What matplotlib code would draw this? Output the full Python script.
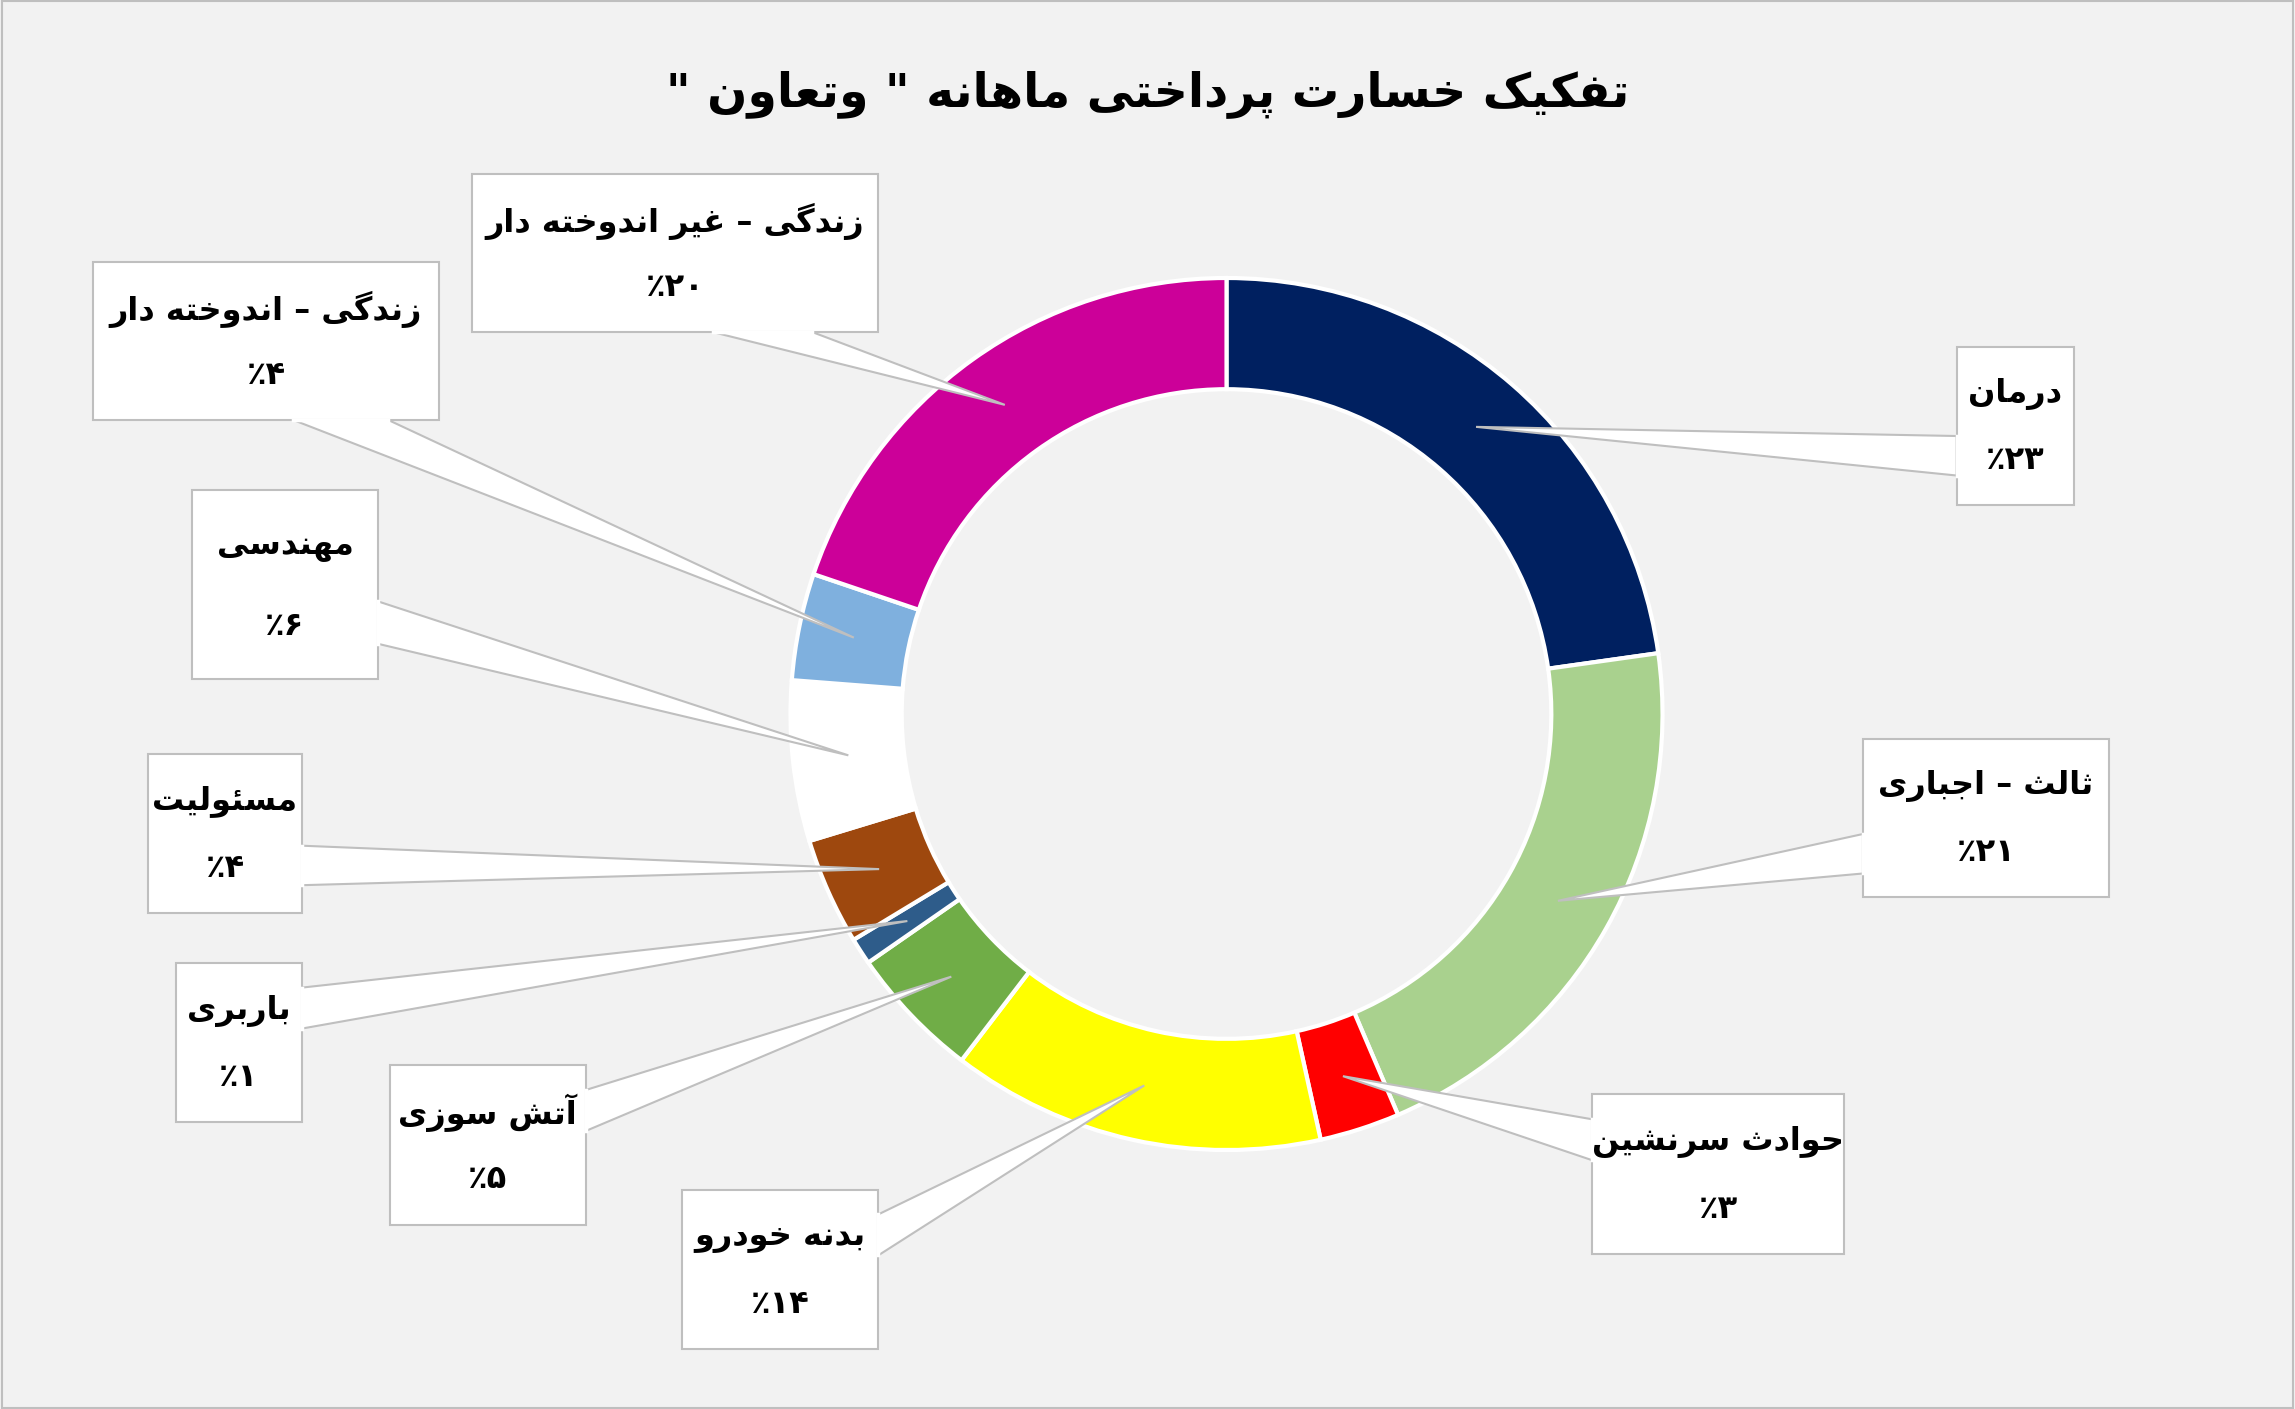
import numpy as np
import matplotlib
matplotlib.use("Agg")
import matplotlib.pyplot as plt
from matplotlib.patches import Rectangle, Polygon

# ---------------- data ----------------
categories = ["درمان", "ثالث – اجباری", "حوادث سرنشین", "بدنه خودرو", "آتش سوزی",
              "باربری", "مسئولیت", "مهندسی", "زندگی – اندوخته دار", "زندگی – غیر اندوخته دار"]
values = [23, 21, 3, 14, 5, 1, 4, 6, 4, 20]
pct_labels = ["۲۳", "۲۱", "۳", "۱۴", "۵", "۱", "۴", "۶", "۴", "۲۰"]
colors = ["#002060", "#A9D18E", "#FF0000", "#FFFF00", "#70AD47",
          "#2E5C8A", "#9E480E", "#FFFFFF", "#7FB0DE", "#CC0099"]
title = 'تفکیک خسارت پرداختی ماهانه " وتعاون "'

# ---------------- minimal Arabic shaping ----------------
F = {  # iso, fin, ini, med
 'ا': (0xFE8D, 0xFE8E, None, None), 'آ': (0xFE81, 0xFE82, None, None),
 'ب': (0xFE8F, 0xFE90, 0xFE91, 0xFE92), 'پ': (0xFB56, 0xFB57, 0xFB58, 0xFB59),
 'ت': (0xFE95, 0xFE96, 0xFE97, 0xFE98), 'ث': (0xFE99, 0xFE9A, 0xFE9B, 0xFE9C),
 'ج': (0xFE9D, 0xFE9E, 0xFE9F, 0xFEA0), 'ح': (0xFEA1, 0xFEA2, 0xFEA3, 0xFEA4),
 'خ': (0xFEA5, 0xFEA6, 0xFEA7, 0xFEA8), 'د': (0xFEA9, 0xFEAA, None, None),
 'ر': (0xFEAD, 0xFEAE, None, None), 'ز': (0xFEAF, 0xFEB0, None, None),
 'س': (0xFEB1, 0xFEB2, 0xFEB3, 0xFEB4), 'ش': (0xFEB5, 0xFEB6, 0xFEB7, 0xFEB8),
 'ع': (0xFEC9, 0xFECA, 0xFECB, 0xFECC), 'غ': (0xFECD, 0xFECE, 0xFECF, 0xFED0),
 'ف': (0xFED1, 0xFED2, 0xFED3, 0xFED4), 'ک': (0xFB8E, 0xFB8F, 0xFB90, 0xFB91),
 'گ': (0xFB92, 0xFB93, 0xFB94, 0xFB95), 'ل': (0xFEDD, 0xFEDE, 0xFEDF, 0xFEE0),
 'م': (0xFEE1, 0xFEE2, 0xFEE3, 0xFEE4), 'ن': (0xFEE5, 0xFEE6, 0xFEE7, 0xFEE8),
 'ه': (0xFEE9, 0xFEEA, 0xFEEB, 0xFEEC), 'و': (0xFEED, 0xFEEE, None, None),
 'ی': (0xFBFC, 0xFBFD, 0xFBFE, 0xFBFF), 'ئ': (0xFE89, 0xFE8A, 0xFE8B, 0xFE8C),
 'ؤ': (0xFE85, 0xFE86, None, None),
}

def shape(s):
    out = []
    n = len(s)
    for i, c in enumerate(s):
        if c not in F:
            out.append(c); continue
        prev = s[i-1] if i > 0 else None
        nxt = s[i+1] if i < n-1 else None
        jp = prev in F and F[prev][2] is not None
        jn = F[c][2] is not None and nxt in F
        iso, fin, ini, med = F[c]
        if jp and jn: g = med
        elif jp: g = fin
        elif jn: g = ini
        else: g = iso
        out.append(chr(g))
    return "".join(out)[::-1]

# ---------------- figure ----------------
W, H = 1568, 963
fig = plt.figure(figsize=(22.95, 14.09), dpi=100, facecolor="#F2F2F2")
ax = fig.add_axes([0, 0, 1, 1])
ax.set_xlim(0, W); ax.set_ylim(H, 0); ax.set_aspect("equal"); ax.axis("off")
ax.add_patch(Rectangle((1, 1), W-2, H-2, fill=False, edgecolor="#BFBFBF", lw=1.5))

cx, cy, R, width = 838, 488, 298, 76
wedges, _ = ax.pie(values, colors=colors, startangle=-90, counterclock=True,
                   center=(cx, cy), radius=R, frame=True,
                   wedgeprops=dict(width=width, edgecolor="white", linewidth=3))
ax.set_xlim(0, W); ax.set_ylim(H, 0); ax.axis("off")

fam = ["DejaVu Sans"]
ax.text(W/2, 64, shape(title), ha="center", va="center", fontsize=34, fontweight="bold", family=fam)

boxes = [
    ((1337, 237, 1417, 345), [(1337, 298), (1337, 325)]),
    ((1273, 505, 1441, 613), [(1273, 570), (1273, 597)]),
    ((1088, 748, 1260, 857), [(1088, 765), (1088, 793)]),
    ((466, 813, 600, 922), [(600, 830), (600, 858)]),
    ((266, 728, 400, 837), [(400, 745), (400, 773)]),
    ((120, 658, 206, 767), [(206, 675), (206, 703)]),
    ((101, 515, 206, 624), [(206, 578), (206, 605)]),
    ((131, 335, 258, 464), [(258, 411), (258, 440)]),
    ((63, 179, 300, 287), [(200, 287), (265, 287)]),
    ((322, 119, 600, 227), [(487, 227), (555, 227)]),
]

for w, lab, pct, (bx, base) in zip(wedges, categories, pct_labels, boxes):
    th = np.deg2rad((w.theta1 + w.theta2) / 2)
    rm = R - width / 2
    tx, ty = cx + rm * np.cos(th), cy + rm * np.sin(th)
    ax.add_patch(Polygon([base[0], (tx, ty), base[1]], closed=True, facecolor="white",
                         edgecolor="#BFBFBF", lw=1.5, zorder=4))
    x0, y0, x1, y1 = bx
    ax.add_patch(Rectangle((x0, y0), x1-x0, y1-y0, facecolor="white",
                           edgecolor="#BFBFBF", lw=1.5, zorder=5))
    xm = (x0 + x1) / 2
    ax.text(xm, y0 + (y1-y0)*0.30, shape(lab), ha="center", va="center",
            fontsize=23, fontweight="bold", family=fam, zorder=6)
    ax.text(xm, y0 + (y1-y0)*0.72, "٪" + pct, ha="center", va="center",
            fontsize=23, fontweight="bold", family=fam, zorder=6)
    ax.plot([base[0][0], base[1][0]], [base[0][1], base[1][1]], color="white", lw=2.5, zorder=5.5)

fig.savefig("out.png", dpi=100, facecolor=fig.get_facecolor())
